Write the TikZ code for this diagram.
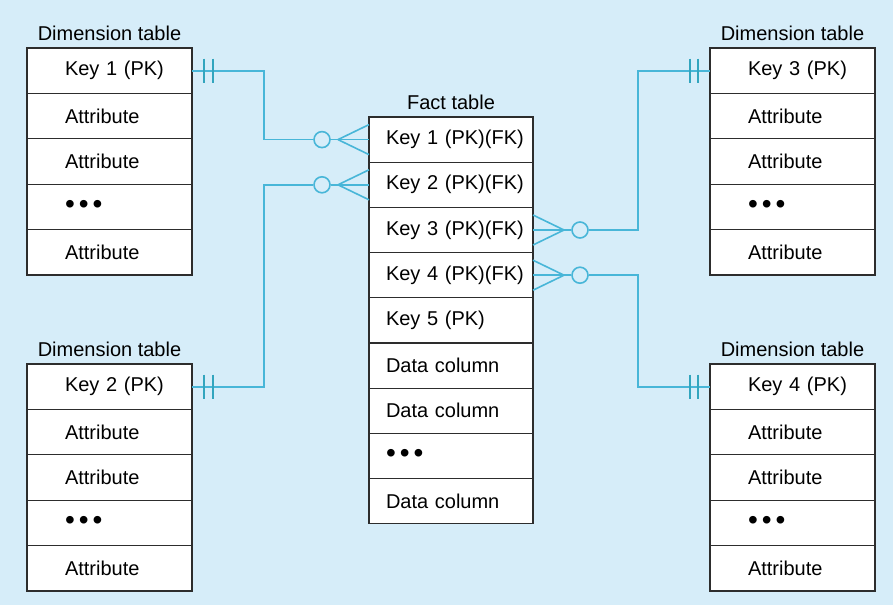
\documentclass[tikz,border=0pt]{standalone}
\usepackage{fontspec}
\setmainfont{Liberation Sans}
\usetikzlibrary{calc}
\definecolor{bgc}{RGB}{214,237,249}
\definecolor{lnc}{RGB}{72,182,216}
\definecolor{tkc}{RGB}{50,165,190}
\definecolor{bdc}{RGB}{45,45,45}
\newcommand{\onedot}{\raisebox{-0.5pt}{\scalebox{1.4}{\textbullet}}}
\newcommand{\tdots}{\onedot\hspace{4pt}\onedot\hspace{4pt}\onedot}
\begin{document}
\begin{tikzpicture}[x=1pt,y=-1pt,
  font=\fontsize{20}{23}\selectfont,
  rowbase/.style={draw=bdc, line width=1.3pt, fill=white, rectangle, outer sep=0pt,
     inner sep=0pt, align=left, anchor=north},
  dimrow/.style={rowbase, minimum height=45.4pt, text width=165pt,
     execute at begin node={\hspace*{38pt}}},
  factrow/.style={rowbase, minimum height=45.2pt, text width=164pt,
     execute at begin node={\hspace*{17pt}}},
  ttl/.style={inner sep=0pt, anchor=base},
  conn/.style={draw=lnc, line width=1.6pt},
  tick/.style={draw=tkc, line width=1.6pt},
  ocirc/.style={draw=lnc, line width=1.6pt, circle, minimum size=16pt, inner sep=0pt}
]
\useasboundingbox (0,0) rectangle (893,605);
\fill[bgc] (0,0) rectangle (893,605);

% Left top dimension table
\node[dimrow, anchor=north west] (La) at (27,48) {Key 1 (PK)};
\node[dimrow] (Lb) at (La.south) {Attribute};
\node[dimrow] (Lc) at (Lb.south) {Attribute};
\node[dimrow] (Ld) at (Lc.south) {\tdots};
\node[dimrow] (Le) at (Ld.south) {Attribute};
\node[ttl] (Lt) at ($(La.north)+(0,-8)$) {Dimension table};

% Left bottom dimension table
\node[dimrow, anchor=north west] (Ma) at (27,364) {Key 2 (PK)};
\node[dimrow] (Mb) at (Ma.south) {Attribute};
\node[dimrow] (Mc) at (Mb.south) {Attribute};
\node[dimrow] (Md) at (Mc.south) {\tdots};
\node[dimrow] (Me) at (Md.south) {Attribute};
\node[ttl] (Mt) at ($(Ma.north)+(0,-8)$) {Dimension table};

% Right top dimension table
\node[dimrow, anchor=north west] (Ra) at (710,48) {Key 3 (PK)};
\node[dimrow] (Rb) at (Ra.south) {Attribute};
\node[dimrow] (Rc) at (Rb.south) {Attribute};
\node[dimrow] (Rd) at (Rc.south) {\tdots};
\node[dimrow] (Re) at (Rd.south) {Attribute};
\node[ttl] (Rt) at ($(Ra.north)+(0,-8)$) {Dimension table};

% Right bottom dimension table
\node[dimrow, anchor=north west] (Sa) at (710,364) {Key 4 (PK)};
\node[dimrow] (Sb) at (Sa.south) {Attribute};
\node[dimrow] (Sc) at (Sb.south) {Attribute};
\node[dimrow] (Sd) at (Sc.south) {\tdots};
\node[dimrow] (Se) at (Sd.south) {Attribute};
\node[ttl] (St) at ($(Sa.north)+(0,-8)$) {Dimension table};

% Fact table
\node[factrow, anchor=north west] (F1) at (369,117) {Key 1 (PK)(FK)};
\node[factrow] (F2) at (F1.south) {Key 2 (PK)(FK)};
\node[factrow] (F3) at (F2.south) {Key 3 (PK)(FK)};
\node[factrow] (F4) at (F3.south) {Key 4 (PK)(FK)};
\node[factrow] (F5) at (F4.south) {Key 5 (PK)};
\node[factrow] (F6) at (F5.south) {Data column};
\node[factrow] (F7) at (F6.south) {Data column};
\node[factrow] (F8) at (F7.south) {\tdots};
\node[factrow] (F9) at (F8.south) {Data column};
\node[ttl] (Ft) at ($(F1.north)+(0,-8)$) {Fact table};

% helper coordinates
\coordinate (vl) at (264,0);
\coordinate (vr) at (638,0);

% optional circles
\node[ocirc] (o1) at ($(F1.west)+(-47,0)$) {};
\node[ocirc] (o2) at ($(F2.west)+(-47,0)$) {};
\node[ocirc] (o3) at ($(F3.east)+(47,0)$) {};
\node[ocirc] (o4) at ($(F4.east)+(47,0)$) {};

% Key 1 connector
\draw[conn] (La.east) -- (La.east -| vl) |- (o1.west);
\draw[conn] (o1.east) -- (F1.west);
\draw[conn] ($(F1.west)+(-31,0)$) -- ($(F1.west)+(0,-15)$);
\draw[conn] ($(F1.west)+(-31,0)$) -- ($(F1.west)+(0,15)$);
\draw[tick] ($(La.east)+(12,-12)$) -- ++(0,24);
\draw[tick] ($(La.east)+(21,-12)$) -- ++(0,24);

% Key 2 connector
\draw[conn] (Ma.east) -- (Ma.east -| vl) |- (o2.west);
\draw[conn] (o2.east) -- (F2.west);
\draw[conn] ($(F2.west)+(-31,0)$) -- ($(F2.west)+(0,-15)$);
\draw[conn] ($(F2.west)+(-31,0)$) -- ($(F2.west)+(0,15)$);
\draw[tick] ($(Ma.east)+(12,-12)$) -- ++(0,24);
\draw[tick] ($(Ma.east)+(21,-12)$) -- ++(0,24);

% Key 3 connector
\draw[conn] (Ra.west) -- (Ra.west -| vr) |- (o3.east);
\draw[conn] (o3.west) -- (F3.east);
\draw[conn] ($(F3.east)+(31,0)$) -- ($(F3.east)+(0,-15)$);
\draw[conn] ($(F3.east)+(31,0)$) -- ($(F3.east)+(0,15)$);
\draw[tick] ($(Ra.west)+(-12,-12)$) -- ++(0,24);
\draw[tick] ($(Ra.west)+(-20,-12)$) -- ++(0,24);

% Key 4 connector
\draw[conn] (Sa.west) -- (Sa.west -| vr) |- (o4.east);
\draw[conn] (o4.west) -- (F4.east);
\draw[conn] ($(F4.east)+(31,0)$) -- ($(F4.east)+(0,-15)$);
\draw[conn] ($(F4.east)+(31,0)$) -- ($(F4.east)+(0,15)$);
\draw[tick] ($(Sa.west)+(-12,-12)$) -- ++(0,24);
\draw[tick] ($(Sa.west)+(-20,-12)$) -- ++(0,24);
\end{tikzpicture}
\end{document}
